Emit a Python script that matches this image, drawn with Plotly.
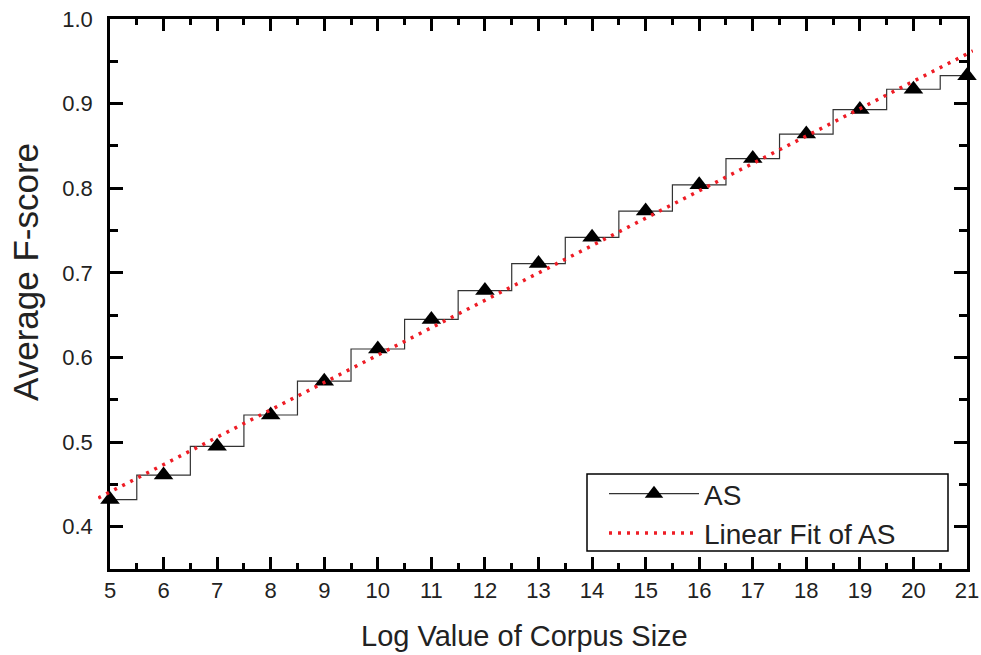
import numpy as np
import plotly.graph_objects as go

# Data
x_vals = [5, 6, 7, 8, 9, 10, 11, 12, 13, 14, 15, 16, 17, 18, 19, 20, 21]
as_vals = [0.432, 0.461, 0.495, 0.532, 0.572, 0.610, 0.645, 0.679, 0.711,
           0.742, 0.773, 0.804, 0.835, 0.864, 0.893, 0.917, 0.933]
fit_span = [4.78, 21.11]
x_ticks = list(range(5, 22))
y_ticks = [0.4, 0.5, 0.6, 0.7, 0.8, 0.9, 1.0]
y_range = [0.35, 1.0]

slope, intercept = np.polyfit(x_vals, as_vals, 1)
fit_y = [slope * v + intercept for v in fit_span]

W, H = 981, 655
ML, MR, MT, MB = 98, 8, 19, 86
plot_w = W - ML - MR
plot_h = H - MT - MB
left_px, right_px = 110, 967
dom0 = (left_px - ML) / plot_w
dom1 = (right_px - ML) / plot_w
ppu = (right_px - left_px) / (21 - 5)
x2_range = [5 - (left_px - ML) / ppu, 21 + (W - MR - right_px) / ppu]


def px_x(px):
    return (px - ML) / plot_w


def px_y(py):
    return (H - MB - py) / plot_h


font = "Liberation Sans, Arial, sans-serif"
txt = "#222222"

fig = go.Figure()
fig.add_trace(go.Scatter(
    x=x_vals, y=as_vals, name="AS", mode="lines+markers",
    line=dict(color="#333333", width=1.2, shape="hvh"),
    marker=dict(symbol="triangle-up", size=17, color="black"),
    cliponaxis=False, xaxis="x", yaxis="y"))
fig.add_trace(go.Scatter(
    x=fit_span, y=fit_y, name="Linear Fit of AS", mode="lines",
    line=dict(color="#ee1c25", width=3.5, dash="3px,6px"),
    xaxis="x2", yaxis="y2"))

axis_common = dict(
    showline=True, linecolor="black", linewidth=2.5, mirror="allticks",
    ticks="inside", tickcolor="black", tickwidth=2.5,
    showgrid=False, zeroline=False, automargin=False,
    tickfont=dict(family=font, size=22, color=txt),
)

fig.update_layout(
    width=W, height=H,
    margin=dict(l=ML, r=MR, t=MT, b=MB),
    paper_bgcolor="white", plot_bgcolor="rgba(0,0,0,0)",
    showlegend=True,
    legend=dict(
        x=px_x(604), y=px_y(469),
        xanchor="left", yanchor="top",
        bgcolor="rgba(0,0,0,0)", borderwidth=0,
        font=dict(family=font, size=28, color=txt),
        itemwidth=90,
    ),
    shapes=[dict(type="rect", xref="paper", yref="paper",
                 x0=px_x(587), x1=px_x(948), y0=px_y(551), y1=px_y(474),
                 line=dict(color="black", width=1.5), fillcolor="white",
                 layer="below")],
    annotations=[
        dict(text="Log Value of Corpus Size", xref="paper", yref="paper",
             x=px_x(524), y=px_y(636), xanchor="center", yanchor="middle",
             showarrow=False, font=dict(family=font, size=29, color=txt)),
        dict(text="Average F-score", xref="paper", yref="paper",
             x=px_x(25), y=px_y(272), xanchor="center", yanchor="middle",
             textangle=-90, showarrow=False,
             font=dict(family=font, size=35, color=txt)),
    ],
    xaxis=dict(
        domain=[dom0, dom1], range=[5, 21], tickvals=x_ticks,
        ticklen=12,
        minor=dict(ticks="inside", ticklen=6, dtick=0.5, tick0=5,
                   tickcolor="black", tickwidth=2.5),
        anchor="y",
        **axis_common,
    ),
    xaxis2=dict(domain=[0, 1], range=x2_range, visible=False, anchor="y2"),
    yaxis2=dict(domain=[0, 1], range=y_range, visible=False, anchor="x2"),
    yaxis=dict(
        domain=[0, 1], range=y_range, tickvals=y_ticks,
        tickformat=".1f", ticklen=13, ticklabelstandoff=10,
        minor=dict(ticks="inside", ticklen=8, dtick=0.05, tick0=0.35,
                   tickcolor="black", tickwidth=2.5),
        anchor="x",
        **axis_common,
    ),
)

fig.write_html("out.html")
